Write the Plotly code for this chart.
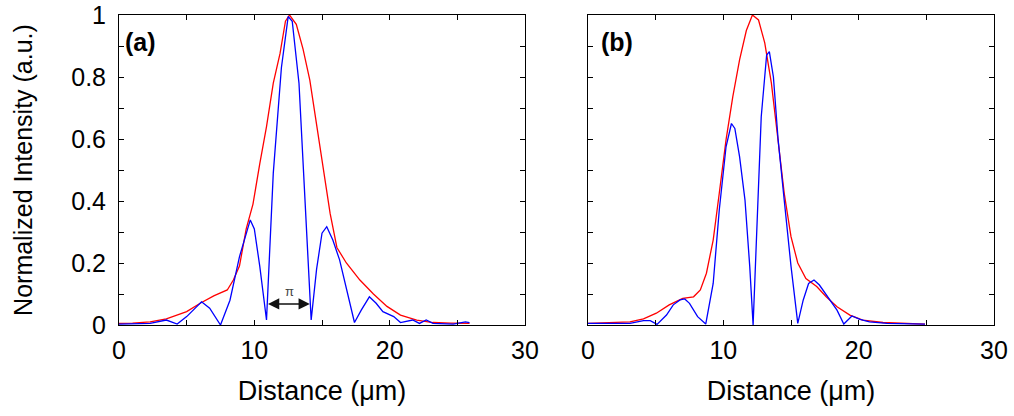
import plotly.graph_objects as go

# panel (a)
a_red_x = [0, 1.0, 2.3, 3.5, 5.0, 6.0, 7.0, 8.0, 8.45, 8.9, 9.4, 9.9, 10.4, 10.9, 11.4, 11.9,
           12.3, 12.6, 13.1, 13.6, 14.1, 14.6, 15.1, 15.6, 16.1, 16.8, 17.8, 18.8, 19.8, 20.8,
           22.0, 23.2, 24.5, 25.9]
a_red_y = [0.005, 0.006, 0.01, 0.02, 0.043, 0.07, 0.094, 0.113, 0.145, 0.19, 0.31, 0.39, 0.52,
           0.64, 0.78, 0.876, 0.98, 1.0, 0.97, 0.89, 0.79, 0.65, 0.51, 0.36, 0.25, 0.2, 0.145,
           0.1, 0.06, 0.032, 0.016, 0.008, 0.006, 0.005]

a_blue_x = [0, 1.0, 2.3, 3.5, 4.3, 5.0, 6.1, 6.7, 7.5, 8.2, 8.9, 9.7, 10.0, 10.4, 10.9, 11.4,
            12.0, 12.5, 12.8, 13.3, 13.7, 14.2, 14.6, 15.0, 15.35, 15.8, 16.3, 17.0, 17.4,
            17.9, 18.5, 19.0, 19.5, 20.3, 20.8, 21.7, 22.2, 22.7, 23.2, 24.7, 25.6, 25.9]
a_blue_y = [0.003, 0.004, 0.005, 0.016, 0.003, 0.027, 0.075, 0.054, 0.0, 0.08, 0.22, 0.339,
            0.31, 0.19, 0.016, 0.49, 0.83, 0.995, 0.98, 0.78, 0.457, 0.016, 0.18, 0.296, 0.317,
            0.274, 0.21, 0.08, 0.008, 0.048, 0.091, 0.07, 0.043, 0.027, 0.008, 0.016, 0.005,
            0.016, 0.005, 0.003, 0.01, 0.008]

# panel (b)
b_red_x = [0, 3.1, 4.1, 5.05, 6.0, 7.0, 7.8, 8.3, 8.75, 9.25, 9.7, 10.2, 10.7, 11.2, 11.7,
           12.15, 12.6, 13.06, 13.55, 14.05, 14.5, 15.0, 15.5, 16.1, 16.9, 17.6, 18.4, 19.35,
           20.3, 21.8, 24.9]
b_red_y = [0.005, 0.01, 0.02, 0.038, 0.065, 0.086, 0.091, 0.113, 0.167, 0.274, 0.425, 0.597,
           0.737, 0.855, 0.95, 1.0, 0.984, 0.91, 0.78, 0.597, 0.425, 0.285, 0.2, 0.15, 0.124,
           0.091, 0.059, 0.032, 0.016, 0.008, 0.003]

b_blue_x = [0, 3.1, 4.1, 4.6, 5.1, 5.8, 6.3, 6.8, 7.15, 7.5, 8.1, 8.7, 9.25, 9.7, 10.2, 10.6,
            10.85, 11.2, 11.6, 11.95, 12.2, 12.45, 12.8, 13.2, 13.4, 13.7, 14.05, 14.5, 15.0,
            15.5, 15.9, 16.3, 16.7, 17.1, 17.6, 18.4, 18.9, 19.5, 20.1, 20.8, 22.1, 23.3, 24.9]
b_blue_y = [0.005, 0.005, 0.014, 0.014, 0.002, 0.032, 0.065, 0.081, 0.084, 0.07, 0.027, 0.003,
            0.134, 0.371, 0.575, 0.65, 0.634, 0.543, 0.403, 0.19, 0.0, 0.296, 0.672, 0.871,
            0.882, 0.80, 0.597, 0.403, 0.19, 0.005, 0.08, 0.134, 0.145, 0.129, 0.097, 0.048,
            0.003, 0.029, 0.018, 0.01, 0.005, 0.005, 0.003]

x_ticks = [0, 5, 10, 15, 20, 25, 30]
x_text = ['0', '', '10', '', '20', '', '30']
y_ticks = [0, 0.1, 0.2, 0.3, 0.4, 0.5, 0.6, 0.7, 0.8, 0.9, 1.0]
y_text = ['0', '', '0.2', '', '0.4', '', '0.6', '', '0.8', '', '1']

W, H = 1014, 416
font = 'Arial, Liberation Sans, sans-serif'

fig = go.Figure()
fig.add_trace(go.Scatter(x=a_red_x, y=a_red_y, mode='lines', line=dict(color='#ff0000', width=1.3),
                         xaxis='x', yaxis='y'))
fig.add_trace(go.Scatter(x=a_blue_x, y=a_blue_y, mode='lines', line=dict(color='#0000ff', width=1.3),
                         xaxis='x', yaxis='y'))
fig.add_trace(go.Scatter(x=b_red_x, y=b_red_y, mode='lines', line=dict(color='#ff0000', width=1.3),
                         xaxis='x2', yaxis='y2'))
fig.add_trace(go.Scatter(x=b_blue_x, y=b_blue_y, mode='lines', line=dict(color='#0000ff', width=1.3),
                         xaxis='x2', yaxis='y2'))

ydom = [1 - 325 / H, 1 - 15 / H]
common = dict(showline=True, linecolor='black', linewidth=1, mirror='ticks', ticks='inside',
              ticklen=5, tickcolor='black', showgrid=False, zeroline=False, automargin=False,
              tickfont=dict(size=25, color='black'))

fig.update_layout(
    width=W, height=H,
    margin=dict(l=0, r=0, t=0, b=0),
    paper_bgcolor='white', plot_bgcolor='white',
    font=dict(family=font, color='black'),
    showlegend=False,
    xaxis=dict(domain=[119 / W, 525 / W], range=[0, 30], tickvals=x_ticks, ticktext=x_text,
               anchor='y', ticklabelstandoff=3,
               title=dict(text='Distance (μm)', font=dict(size=27), standoff=18), **common),
    yaxis=dict(domain=ydom, range=[0, 1], tickvals=y_ticks, ticktext=y_text, anchor='x',
               ticklabelstandoff=7,
               title=dict(text='Normalized Intensity (a.u.)', font=dict(size=25), standoff=31),
               **common),
    xaxis2=dict(domain=[588 / W, 994 / W], range=[0, 30], tickvals=x_ticks, ticktext=x_text,
                anchor='y2', ticklabelstandoff=3,
                title=dict(text='Distance (μm)', font=dict(size=27), standoff=18), **common),
    yaxis2=dict(domain=ydom, range=[0, 1], tickvals=y_ticks, ticktext=[''] * len(y_ticks),
                anchor='x2', **common),
)

fig.add_annotation(x=0.01, y=0.965, xref='x domain', yref='y domain', text='<b>(a)</b>',
                   showarrow=False, xanchor='left', yanchor='top', font=dict(size=25))
fig.add_annotation(x=0.028, y=0.965, xref='x2 domain', yref='y2 domain', text='<b>(b)</b>',
                   showarrow=False, xanchor='left', yanchor='top', font=dict(size=25))

# pi spacing arrow
fig.add_annotation(x=14.1, y=0.068, ax=10.9, ay=0.068, xref='x', yref='y', axref='x', ayref='y',
                   text='', showarrow=True, arrowhead=2, startarrowhead=2, arrowside='end+start',
                   arrowsize=1.5, startarrowsize=1.5, arrowwidth=1.5, arrowcolor='#111111')
fig.add_annotation(x=12.6, y=0.108, xref='x', yref='y', text='π', showarrow=False,
                   font=dict(size=13, color='#444444'))

fig.write_html('out.html', config={'displayModeBar': False},
               post_script="document.body.style.margin='0';")
